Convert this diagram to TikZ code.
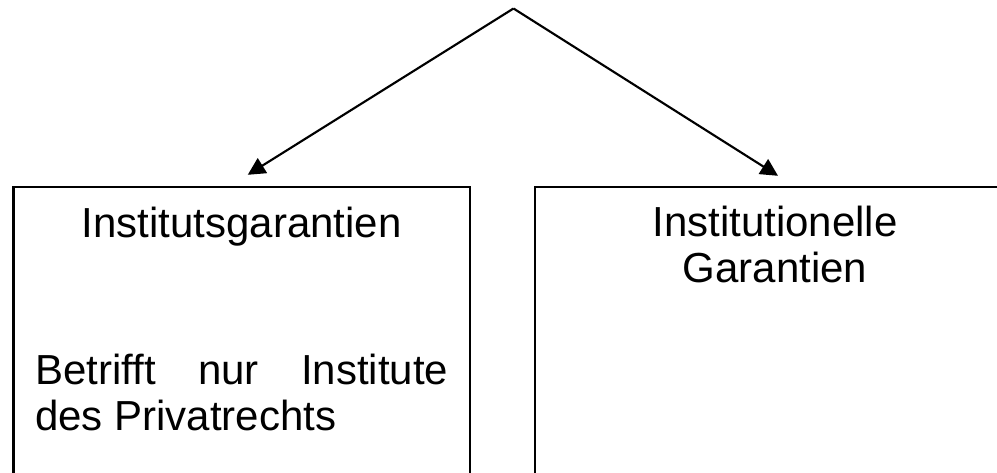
\documentclass[tikz,border=0pt]{standalone}
\usepackage{fontspec}
\setmainfont{Liberation Sans}
\usetikzlibrary{arrows.meta}
\tikzset{
  kasten/.style={draw, line width=1.8pt, inner sep=0pt, minimum height=249.75pt},
  schrift/.style={inner sep=0pt, font={\fontsize{31.5}{34.5}\selectfont}},
  pfeil/.style={line width=1.6pt, -{Triangle[length=13pt,width=13pt]}}
}
\begin{document}
\begin{tikzpicture}[x=0.75pt, y=-0.75pt]
  \useasboundingbox (0, 0) rectangle (997, 473);
  \clip (0, 0) rectangle (997, 473);
  \coordinate (spitze) at (513.5, 8.5);
  \node[kasten, minimum width=342.4pt] (links) at (241.75, 353.5) {};
  \node[kasten, minimum width=360pt] (rechts) at (775, 353.5) {};
  \node[schrift, anchor=base] (titelL) at (241.75, 238) {Institutsgarantien};
  \node[schrift, anchor=base, align=center] (titelR) at (775, 283) {Institutionelle\\Garantien};
  \node[schrift, anchor=base west, text width=309.75pt, align=justify] (textL) at (35, 385) {Betrifft nur Institute des Privatrechts};
  \draw[pfeil] (spitze) -- ([xshift=4.5pt, yshift=8.25pt]links.north);
  \draw[pfeil] (spitze) -- ([xshift=2.25pt, yshift=7.5pt]rechts.north);
\end{tikzpicture}
\end{document}
